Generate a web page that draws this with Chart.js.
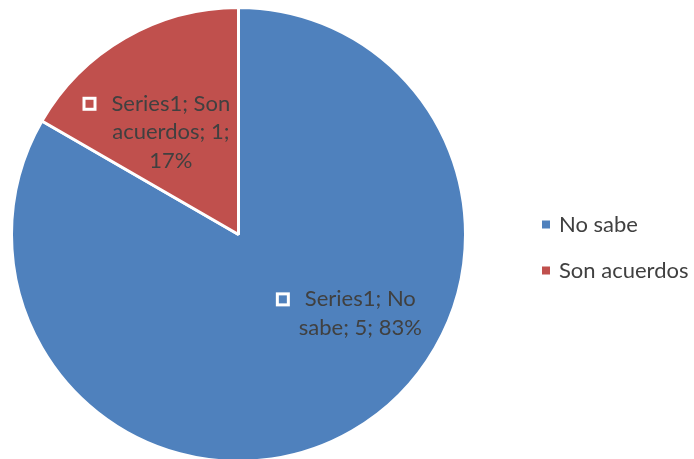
<!DOCTYPE html>
<html>
<head>
<meta charset="utf-8">
<script src="https://cdn.jsdelivr.net/npm/chart.js@4"></script>
<style>
  html, body { margin: 0; padding: 0; background: #fff; overflow: hidden; }
  #wrap { width: 694px; height: 472px; }
</style>
</head>
<body>
<div id="wrap"><canvas id="pie"></canvas></div>
<script>
// data
const categories = ['No sabe', 'Son acuerdos'];
const seriesName = 'Series1';
const values     = [5, 1];
const percents   = ['83%', '17%'];
const colors     = ['#4F81BD', '#C0504D'];

const textCol = '#404040';
const fontFam = 'Lato, "Liberation Sans", sans-serif';

// label placement: angle nudge (deg) from slice middle, fraction of radius
const labelPos = [{ deg: -27, frac: 0.64 }, { deg: -3.5, frac: 0.54 }];
// line breaks as in the reference
const labelLines = [
  [`${seriesName}; No`, `sabe; ${values[0]}; ${percents[0]}`],
  [`${seriesName}; Son`, `acuerdos; ${values[1]};`, percents[1]]
];

const dataLabels = {
  id: 'dataLabels',
  afterDatasetsDraw(chart) {
    const ctx = chart.ctx;
    const arcs = chart.getDatasetMeta(0).data;
    ctx.save();
    ctx.font = `22px ${fontFam}`;
    ctx.fillStyle = textCol;
    ctx.textAlign = 'center';
    ctx.textBaseline = 'middle';
    arcs.forEach((arc, i) => {
      const p = arc.getProps(['x', 'y', 'startAngle', 'endAngle', 'outerRadius'], true);
      const a = (p.startAngle + p.endAngle) / 2 + labelPos[i].deg * Math.PI / 180;
      const r = p.outerRadius * labelPos[i].frac;
      const cx = p.x + Math.cos(a) * r;
      const cy = p.y + Math.sin(a) * r;
      const lines = labelLines[i];
      const lh = 28.5;
      const y0 = cy - (lines.length - 1) * lh / 2;
      lines.forEach((t, k) => ctx.fillText(t, cx, y0 + k * lh));
      // legend key marker in front of first line
      const w = ctx.measureText(lines[0]).width;
      const mx = cx - w / 2 - 22;
      ctx.fillStyle = '#fff';
      ctx.fillRect(mx - 7, y0 - 7, 14, 14);
      ctx.fillStyle = colors[i];
      ctx.fillRect(mx - 4, y0 - 4, 8, 8);
      ctx.fillStyle = textCol;
    });
    ctx.restore();
  }
};

const sideLegend = {
  id: 'sideLegend',
  afterDraw(chart) {
    const ctx = chart.ctx;
    const area = chart.chartArea;
    const x = area.right + 75;
    const mid = (area.top + area.bottom) / 2 + 13;
    const gap = 46;
    ctx.save();
    ctx.font = `22px ${fontFam}`;
    ctx.textBaseline = 'middle';
    ctx.textAlign = 'left';
    categories.forEach((c, i) => {
      const y = mid + (i - (categories.length - 1) / 2) * gap;
      ctx.fillStyle = colors[i];
      ctx.fillRect(x, y - 4, 8, 8);
      ctx.fillStyle = textCol;
      ctx.fillText(c, x + 17, y);
    });
    ctx.restore();
  }
};

new Chart(document.getElementById('pie'), {
  type: 'pie',
  data: {
    labels: categories,
    datasets: [{
      label: seriesName,
      data: values,
      backgroundColor: colors,
      borderColor: '#fff',
      borderWidth: 3
    }]
  },
  options: {
    responsive: true, maintainAspectRatio: false, animation: false,
    layout: { padding: { left: 10, top: 6, right: 227, bottom: 9 } },
    plugins: {
      legend: { display: false },
      tooltip: { enabled: false }
    }
  },
  plugins: [dataLabels, sideLegend]
});
</script>
</body>
</html>
